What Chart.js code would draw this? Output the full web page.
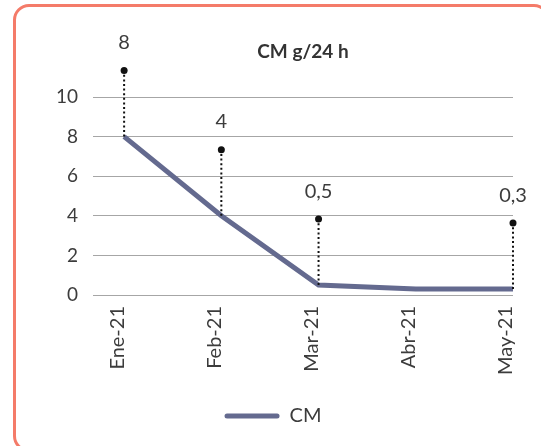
<!DOCTYPE html>
<html>
<head>
<meta charset="utf-8">
<script src="https://cdn.jsdelivr.net/npm/chart.js@4.4.1/dist/chart.umd.min.js"></script>
<style>
  html, body { margin: 0; padding: 0; background: #fff; width: 541px; height: 446px; overflow: hidden; }
  #frame { position: absolute; left: 13px; top: 4px; width: 537px; height: 448px;
           border: 3px solid #f47b69; border-radius: 16px; box-sizing: border-box; }
  #wrap { position: absolute; left: 0; top: 0; width: 541px; height: 446px; }
</style>
</head>
<body>
<div id="frame"></div>
<div id="wrap"><canvas id="c"></canvas></div>
<script>
// Monthly CM values (g/24 h)
const categories = ['Ene-21', 'Feb-21', 'Mar-21', 'Abr-21', 'May-21'];
const cmValues = [8, 4, 0.5, 0.3, 0.3];
// Months that carry a value callout
const calloutIndexes = [0, 1, 2, 4];
const yTickValues = [0, 2, 4, 6, 8, 10];
const chartTitle = 'CM g/24 h';
const seriesName = 'CM';

const FONT = 'Lato';
const TEXT = '#3c3c3c';
const LINE = '#646a8f';

// Value callouts: dotted leader from the point up to a dot, value text above it
const callouts = {
  id: 'callouts',
  afterDatasetsDraw(chart) {
    const meta = chart.getDatasetMeta(0);
    const ctx = chart.ctx;
    calloutIndexes.forEach(i => {
      const p = meta.data[i];
      const top = p.y - 66;
      ctx.save();
      ctx.strokeStyle = '#111';
      ctx.lineWidth = 2;
      ctx.setLineDash([2, 2.6]);
      ctx.beginPath();
      ctx.moveTo(p.x, p.y);
      ctx.lineTo(p.x, top);
      ctx.stroke();
      ctx.setLineDash([]);
      ctx.fillStyle = '#111';
      ctx.beginPath();
      ctx.arc(p.x, top, 3.5, 0, Math.PI * 2);
      ctx.fill();
      ctx.fillStyle = TEXT;
      ctx.font = '20px ' + FONT;
      ctx.textAlign = 'center';
      ctx.textBaseline = 'middle';
      ctx.fillText(String(cmValues[i]).replace('.', ','), p.x, top - 28);
      ctx.restore();
    });
  }
};

// Title centred over the plot area
const plotTitle = {
  id: 'plotTitle',
  afterDraw(chart) {
    const { ctx, chartArea } = chart;
    ctx.save();
    ctx.fillStyle = '#333';
    ctx.font = 'bold 19px ' + FONT;
    ctx.textAlign = 'center';
    ctx.textBaseline = 'middle';
    ctx.fillText(chartTitle, (chartArea.left + chartArea.right) / 2, 52);
    ctx.restore();
  }
};

new Chart(document.getElementById('c'), {
  type: 'line',
  data: {
    datasets: [{
      label: seriesName,
      data: cmValues.map((v, i) => ({ x: i, y: v })),
      borderColor: LINE,
      backgroundColor: LINE,
      borderWidth: 5,
      pointRadius: 0,
      tension: 0,
      fill: false
    }]
  },
  options: {
    responsive: true,
    maintainAspectRatio: false,
    animation: false,
    layout: { padding: { top: 97, left: 33, right: 28, bottom: 10 } },
    scales: {
      x: {
        type: 'linear',
        min: -0.32,
        max: 4,
        grid: { display: false },
        border: { display: false },
        ticks: {
          stepSize: 1,
          includeBounds: false,
          autoSkip: false,
          minRotation: 90,
          maxRotation: 90,
          padding: 3,
          labelOffset: -7,
          color: TEXT,
          font: { family: FONT, size: 20 },
          callback: v => categories[v] ?? ''
        },
        afterFit(scale) { scale.height = 101; }
      },
      y: {
        min: 0,
        max: 10,
        grid: { color: '#a6a6a6', lineWidth: 1, drawTicks: false },
        border: { display: false },
        afterBuildTicks(scale) { scale.ticks = yTickValues.map(v => ({ value: v })); },
        ticks: {
          padding: 15,
          color: TEXT,
          font: { family: FONT, size: 19 }
        },
        afterFit(scale) { scale.width = 60; }
      }
    },
    plugins: {
      title: { display: false },
      tooltip: { enabled: false },
      legend: {
        position: 'bottom',
        labels: {
          boxWidth: 55,
          boxHeight: 5,
          useBorderRadius: true,
          borderRadius: 2.5,
          color: TEXT,
          font: { family: FONT, size: 20 },
          generateLabels(chart) {
            return Chart.defaults.plugins.legend.labels.generateLabels(chart)
              .map(l => Object.assign(l, { lineWidth: 0, fillStyle: LINE }));
          }
        }
      }
    }
  },
  plugins: [callouts, plotTitle]
});
</script>
</body>
</html>
